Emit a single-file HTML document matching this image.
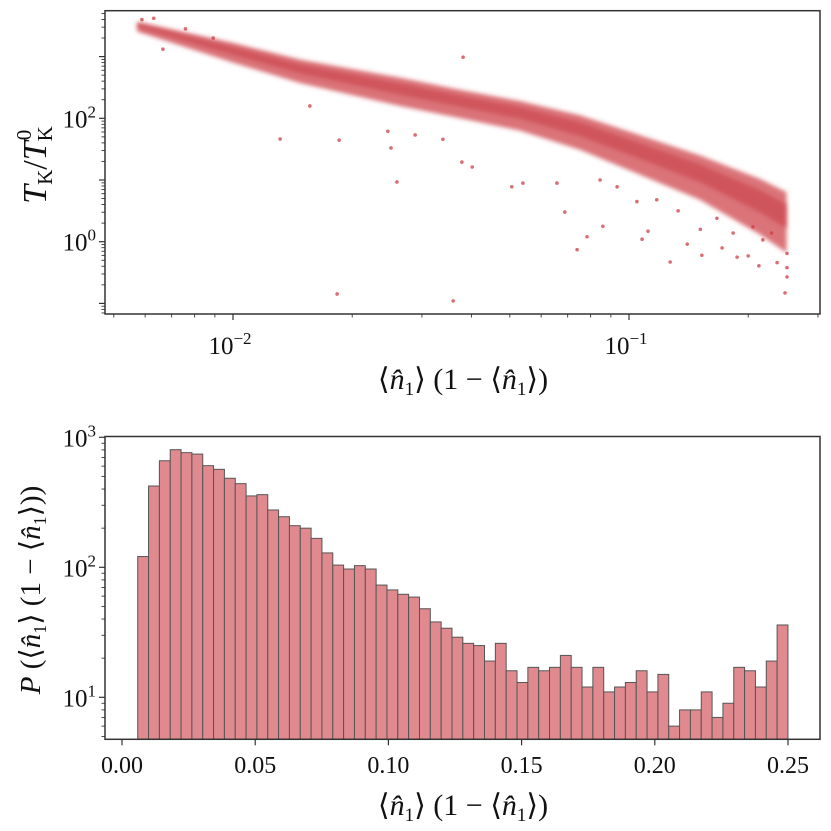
<!DOCTYPE html>
<html><head><meta charset="utf-8"><style>
html,body{margin:0;padding:0;background:#fff;}
svg{display:block;font-family:"Liberation Serif","DejaVu Serif",serif;}
</style></head><body>
<svg id="chart" width="831" height="831" viewBox="0 0 831 831" xmlns="http://www.w3.org/2000/svg">
<defs><filter id="soft" x="-5%" y="-20%" width="110%" height="140%"><feGaussianBlur stdDeviation="2.2"/></filter></defs>
</svg>
<script>
// ---- top scatter data (log10 values) ----
const bandXLog = [-2.242,-2.0,-1.831,-1.578,-1.427,-1.275,-1.124,-0.972,-0.821,-0.669,-0.602];
const bandCenterLog = [3.507,3.102,2.81,2.486,2.29,2.10,1.84,1.486,1.13,0.678,0.434];
const bandHalfWidth = [0.08,0.16,0.19,0.23,0.23,0.24,0.28,0.32,0.36,0.45,0.49];
const outlierXLog = [-1.881,-1.732,-1.586,-1.737,-1.806,-2.177,-1.609,-1.601,-1.419,-1.444,-1.131,-1.106,-1.066,-1.162,-1.296,-1.268,-1.422,-1.396,-1.54,-1.47,-0.896,-0.967,-0.952,-0.876,-0.853,-0.816,-0.765,-0.727,-0.699,-0.672,-0.626,-0.606,-0.601,-0.601,-0.601,-0.662,-0.737,-0.778,-0.687,-0.64,-0.98,-0.93,-0.82,-1.073,-1.03,-1.182,-2.23,-2.2,-2.12,-2.05];
const outlierYLog = [1.664,1.645,0.968,-0.847,2.2,3.12,1.79,1.52,2.99,-0.96,-0.13,0.08,0.25,0.48,0.89,0.95,1.29,1.21,1.73,1.66,-0.33,0.04,0.17,0.5,-0.04,-0.22,-0.1,-0.25,-0.23,-0.39,-0.34,-0.83,-0.57,-0.42,-0.19,0.03,0.14,0.38,0.24,0.14,0.65,0.68,0.2,1.0,0.89,0.95,3.6,3.62,3.45,3.3];
const topXTicks = ["10","10"];
// ---- histogram data ----
const binStart = 0.0059;
const binWidth = 0.004068;
const counts = [121,422,660,803,762,743,605,567,484,440,354,362,276,245,209,200,167,129,104,97,103,97,73,67,62,59,48,38,34,29,26,25,19,26,16,13,17,16,17,21,17,12,17,11,12,13,16,11,15,6,8,8,11,7,9,17,16,12,19,36];
const histXTicks = ["0.00","0.05","0.10","0.15","0.20","0.25"];
const histXTickVals = [0,0.05,0.10,0.15,0.20,0.25];

const svg = document.getElementById('chart');
const NS = 'http://www.w3.org/2000/svg';
function mk(tag, attrs, parent){const e=document.createElementNS(NS,tag);for(const k in attrs)e.setAttribute(k,attrs[k]);(parent||svg).appendChild(e);return e;}

// ---- TOP PANEL ----
const T = {l:105,r:820,t:10.7,b:314};
const txl = lx => 233 + (lx + 2) * 396;
const tyl = ly => 118.3 - (ly - 2) * 61.7;
const gTop = mk('g',{});


let up=[],dn=[];
for(let i=0;i<bandXLog.length;i++){
  up.push(txl(bandXLog[i])+','+tyl(bandCenterLog[i]+bandHalfWidth[i]*0.75));
  dn.push(txl(bandXLog[i])+','+tyl(bandCenterLog[i]-bandHalfWidth[i]*1.25));
}
const band = mk('polygon',{points:up.concat(dn.reverse()).join(' '),fill:'#cc3d46','fill-opacity':0.72,filter:'url(#soft)'},gTop);


const core = [];
const coreD = [];
for(let i=0;i<bandXLog.length;i++){
  core.push(txl(bandXLog[i])+','+tyl(bandCenterLog[i]+bandHalfWidth[i]*0.35));
  coreD.push(txl(bandXLog[i])+','+tyl(bandCenterLog[i]-bandHalfWidth[i]*0.45));
}
const coreEl = mk('polygon',{points:core.concat(coreD.reverse()).join(' '),fill:'#c83a44','fill-opacity':0.55,filter:'url(#soft)'},gTop);


for(let i=0;i<outlierXLog.length;i++){
  const c = mk('circle',{cx:txl(outlierXLog[i]),cy:tyl(outlierYLog[i]),r:1.8,fill:'#cc3d46','fill-opacity':0.75},gTop);
  
  
}
const tFrame = mk('rect',{x:T.l,y:T.t,width:T.r-T.l,height:T.b-T.t,fill:'none',stroke:'#333','stroke-width':1.5});


for(let d=-3; d<=0; d++){
  for(let m=1;m<10;m++){
    const x = txl(d + Math.log10(m));
    if(x<T.l||x>T.r) continue;
    mk('line',{x1:x,x2:x,y1:T.b,y2:T.b+(m===1?6:3.5),stroke:'#333','stroke-width':m===1?1.2:0.9});
  }
}
[-2,-1].forEach((d,i)=>{
  const t = mk('text',{x:txl(d)-3,y:354,'font-size':25,'text-anchor':'middle',fill:'#111'});
  
  
  t.innerHTML = topXTicks[i]+'<tspan dy="-10" font-size="17">−'+(-d)+'</tspan>';
});
for(let d=-2; d<=3; d++){
  for(let m=1;m<10;m++){
    const y = tyl(d + Math.log10(m));
    if(y<T.t||y>T.b) continue;
    mk('line',{x1:T.l,x2:T.l-(m===1?6:3.5),y1:y,y2:y,stroke:'#333','stroke-width':m===1?1.2:0.9});
  }
}
[2,0].forEach(d=>{
  const t = mk('text',{x:96,y:tyl(d)+9,'font-size':25,'text-anchor':'end',fill:'#111'});
  
  
  t.innerHTML = '10<tspan dy="-10" font-size="17">'+d+'</tspan>';
});
const xt1 = mk('text',{x:463,y:389,'font-size':30,'text-anchor':'middle',fill:'#111'});


xt1.innerHTML = '⟨<tspan font-style="italic">n̂</tspan><tspan font-size="19" dy="6">1</tspan><tspan dy="-6">⟩ (1 − ⟨</tspan><tspan font-style="italic">n̂</tspan><tspan font-size="19" dy="6">1</tspan><tspan dy="-6">⟩)</tspan>';
const yt1 = mk('text',{transform:'translate(46,165) rotate(-90)','font-size':34,'text-anchor':'middle',fill:'#111'});


yt1.innerHTML = '<tspan font-style="italic">T</tspan><tspan font-size="21" dy="6">K</tspan><tspan dy="-6">/</tspan><tspan font-style="italic">T</tspan><tspan font-size="21" dy="6">K</tspan><tspan font-size="21" dx="-14" dy="-21">0</tspan>';

// ---- BOTTOM PANEL ----
const B = {l:105,r:820,t:436.5,b:739.3};
const bx = v => 122 + v * 2664;
const by = v => 697.3 - (Math.log10(v) - 1) * 130;
const gBars = mk('g',{});


counts.forEach((c,i)=>{
  const x0 = bx(binStart + i*binWidth), x1 = bx(binStart + (i+1)*binWidth);
  const y = by(c);
  const r = mk('rect',{x:x0,y:y,width:x1-x0,height:B.b-y,fill:'#e08a8f',stroke:'#555','stroke-width':1},gBars);
  
  
});
const bFrame = mk('rect',{x:B.l,y:B.t,width:B.r-B.l,height:B.b-B.t,fill:'none',stroke:'#333','stroke-width':1.5});


histXTickVals.forEach((v,i)=>{
  const x = bx(v);
  mk('line',{x1:x,x2:x,y1:B.b,y2:B.b+6,stroke:'#333','stroke-width':1.2});
  const t = mk('text',{x:x,y:773,'font-size':24,'text-anchor':'middle',fill:'#111'});
  
  
  t.textContent = histXTicks[i];
});
for(let d=0; d<=3; d++){
  for(let m=1;m<10;m++){
    const y = by(Math.pow(10,d)*m);
    if(y<B.t-0.5||y>B.b) continue;
    mk('line',{x1:B.l,x2:B.l-(m===1?6:3.5),y1:y,y2:y,stroke:'#333','stroke-width':m===1?1.2:0.9});
  }
}
[3,2,1].forEach(d=>{
  const t = mk('text',{x:96,y:by(Math.pow(10,d))+9,'font-size':25,'text-anchor':'end',fill:'#111'});
  
  
  t.innerHTML = '10<tspan dy="-10" font-size="17">'+d+'</tspan>';
});
const xt2 = mk('text',{x:463,y:815,'font-size':30,'text-anchor':'middle',fill:'#111'});


xt2.innerHTML = xt1.innerHTML;
const yt2 = mk('text',{transform:'translate(40,590) rotate(-90)','font-size':29,'text-anchor':'middle',fill:'#111'});


yt2.innerHTML = '<tspan font-style="italic">P</tspan> (⟨<tspan font-style="italic">n̂</tspan><tspan font-size="18" dy="6">1</tspan><tspan dy="-6">⟩ (1 − ⟨</tspan><tspan font-style="italic">n̂</tspan><tspan font-size="18" dy="6">1</tspan><tspan dy="-6">⟩))</tspan>';
</script>
</body></html>
